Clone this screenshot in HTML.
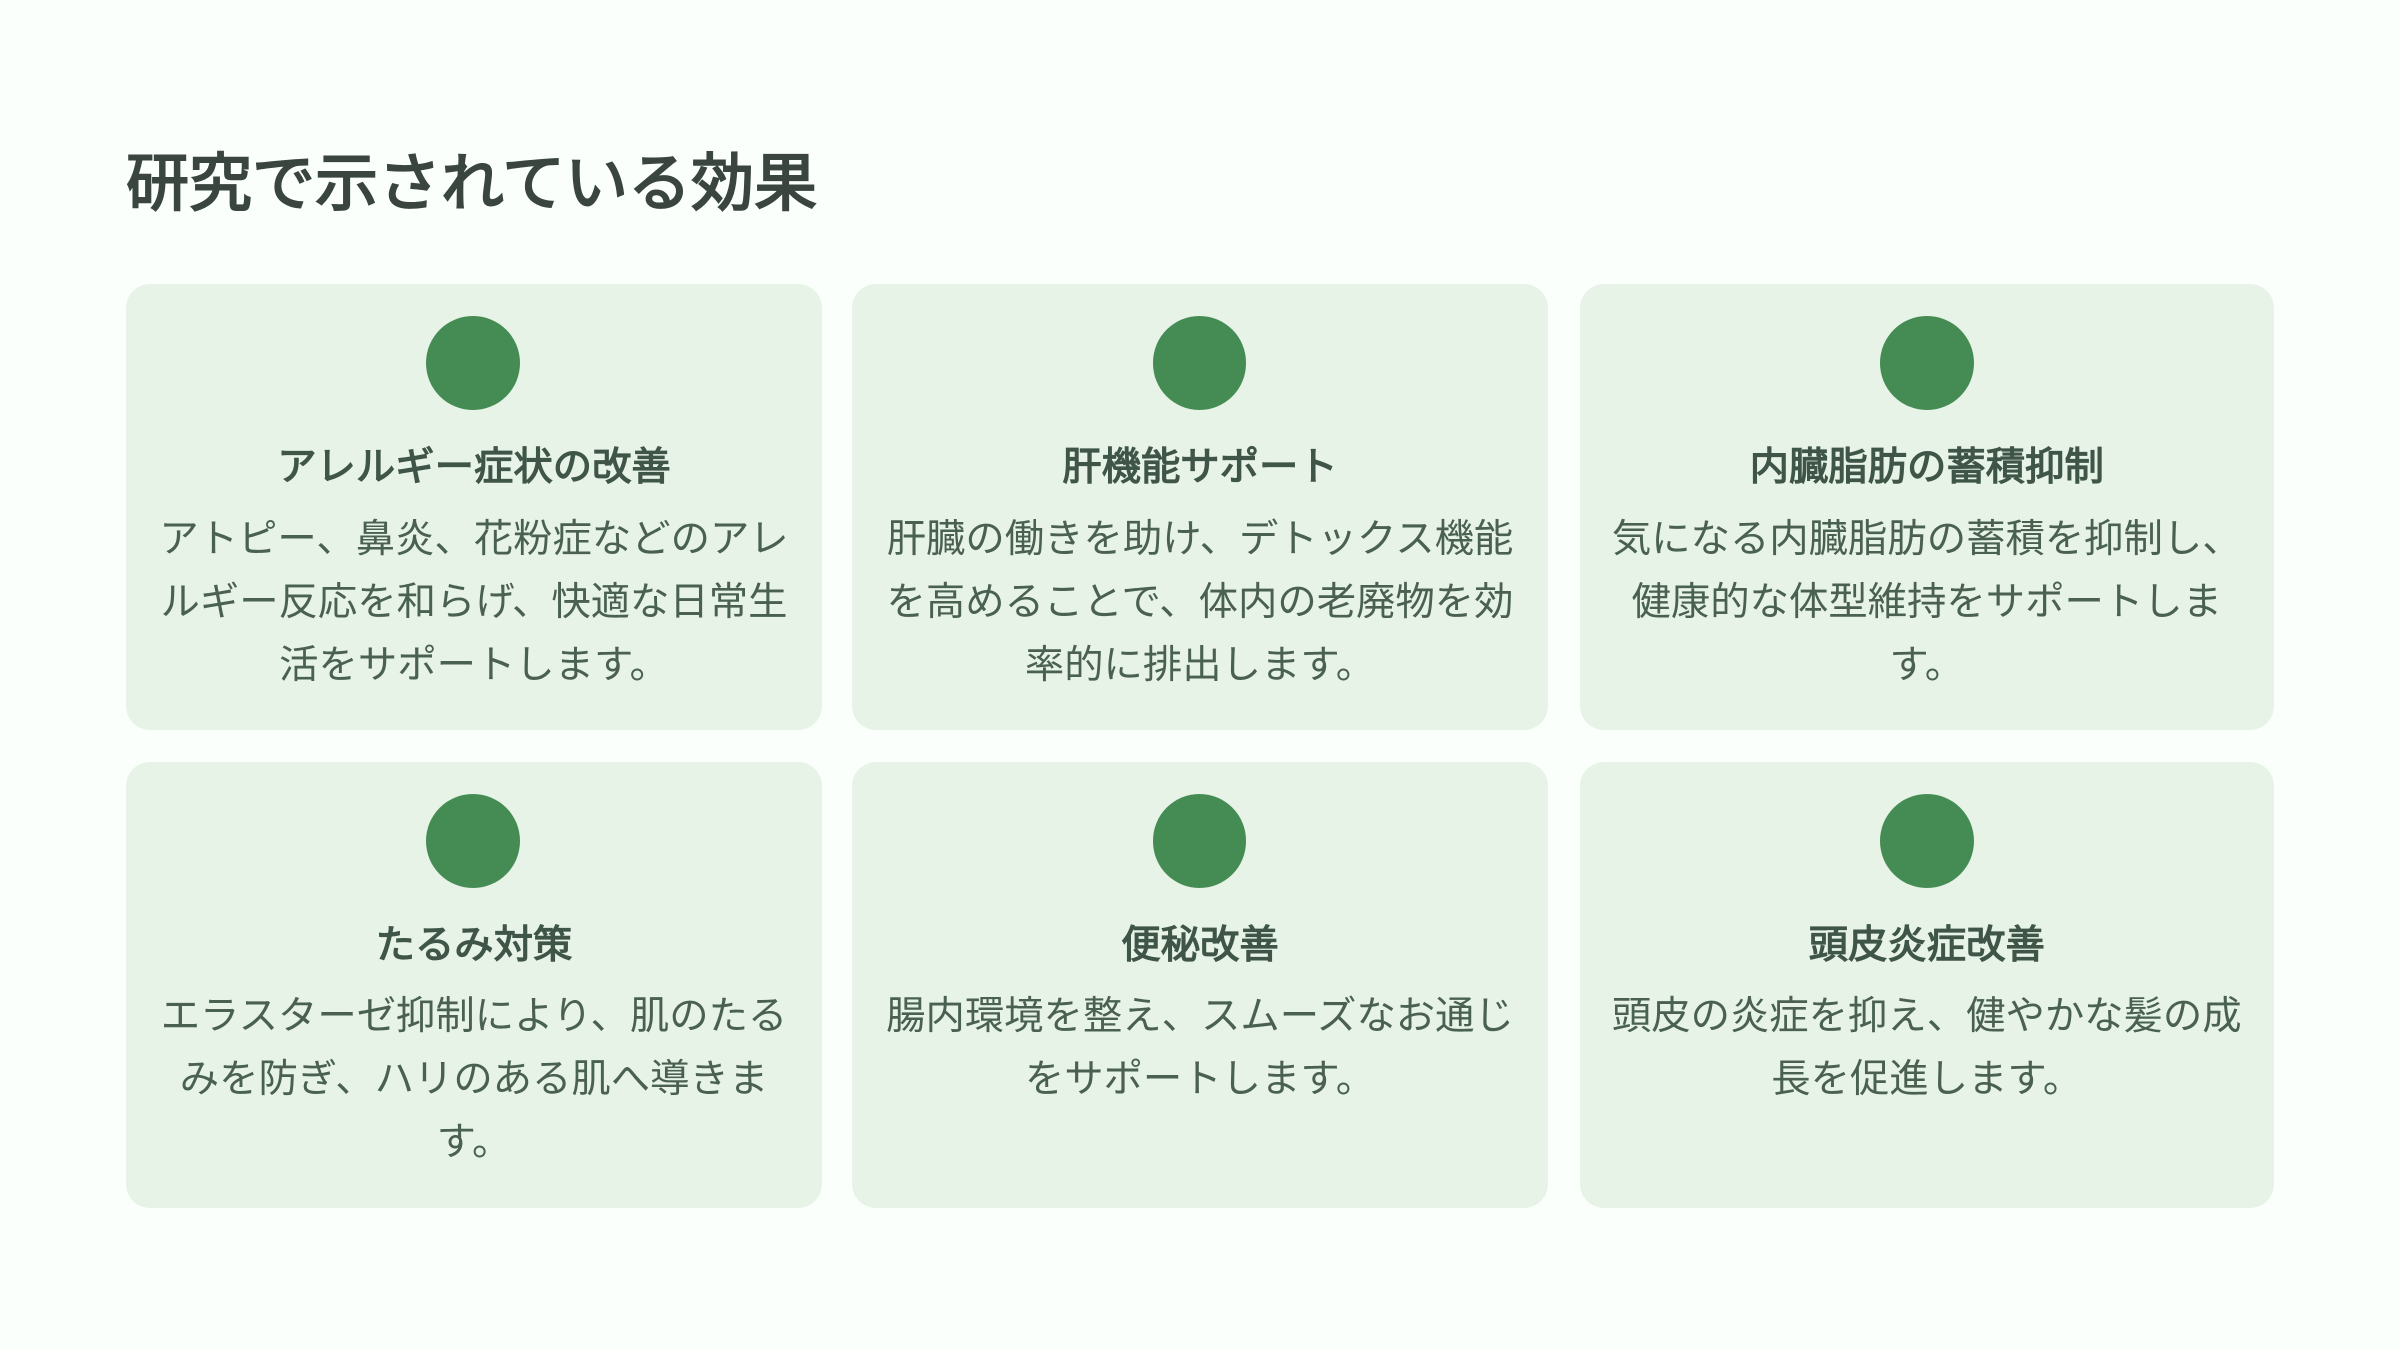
<!DOCTYPE html>
<html lang="ja"><head><meta charset="utf-8">
<style>
*{margin:0;padding:0;box-sizing:border-box}
html,body{width:2400px;height:1350px;overflow:hidden;background:#fbfffb}
body{position:relative;font-family:"WenQuanYi Zen Hei",sans-serif}
h1{position:absolute;left:126px;top:138px;font-size:63px;line-height:92px;font-weight:700;color:#3a4540;white-space:nowrap}
.c{position:absolute;width:696px;height:446px;background:#e7f3e7;border-radius:24px;text-align:center}
.d{position:absolute;left:300.5px;top:32px;width:93.75px;height:93.75px;border-radius:50%;background:#458c54}
h2{position:absolute;left:0;right:0;top:155.5px;font-size:39.375px;line-height:54px;font-weight:700;color:#3f5548;white-space:nowrap}
p{position:absolute;left:0;right:0;top:223.8px;font-size:39.375px;line-height:63px;color:#4a6152;white-space:nowrap}
.r p{top:223.1px}
</style></head><body>
<h1>研究で示されている効果</h1>
<div class="c" style="left:126px;top:284px"><div class="d" style="left:300px"></div><h2>アレルギー症状の改善</h2><p>アトピー、鼻炎、花粉症などのアレ<br>ルギー反応を和らげ、快適な日常生<br>活をサポートします。</p></div>
<div class="c" style="left:852px;top:284px"><div class="d"></div><h2>肝機能サポート</h2><p>肝臓の働きを助け、デトックス機能<br>を高めることで、体内の老廃物を効<br>率的に排出します。</p></div>
<div class="c" style="left:1579.5px;top:284px;width:694.5px"><div class="d"></div><h2>内臓脂肪の蓄積抑制</h2><p>気になる内臓脂肪の蓄積を抑制し、<br>健康的な体型維持をサポートしま<br>す。</p></div>
<div class="c r" style="left:126px;top:762px"><div class="d" style="left:300px"></div><h2>たるみ対策</h2><p>エラスターゼ抑制により、肌のたる<br>みを防ぎ、ハリのある肌へ導きま<br>す。</p></div>
<div class="c r" style="left:852px;top:762px"><div class="d"></div><h2>便秘改善</h2><p>腸内環境を整え、スムーズなお通じ<br>をサポートします。</p></div>
<div class="c r" style="left:1579.5px;top:762px;width:694.5px"><div class="d"></div><h2>頭皮炎症改善</h2><p>頭皮の炎症を抑え、健やかな髪の成<br>長を促進します。</p></div>
</body></html>
